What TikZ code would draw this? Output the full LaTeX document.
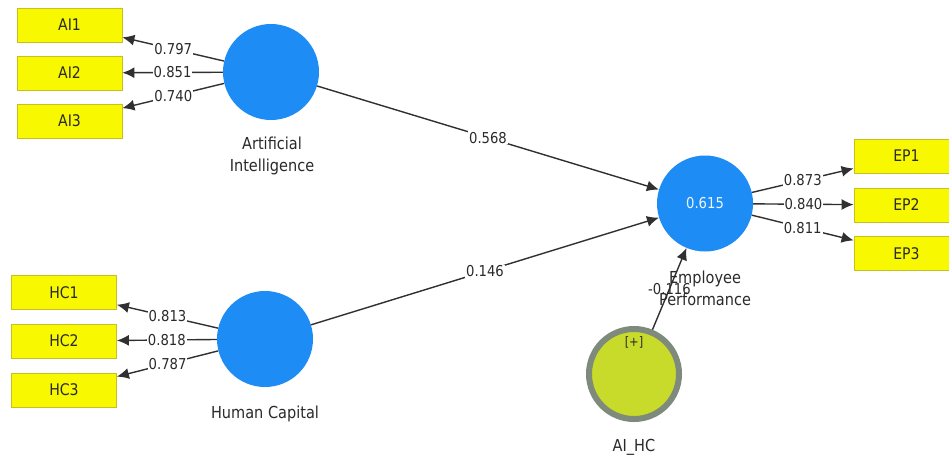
\documentclass[tikz,border=0pt]{standalone}
\usepackage{fontspec}
\setmainfont{DejaVu Sans}[FakeStretch=0.88]
\usetikzlibrary{arrows.meta}

\definecolor{lvblue}{HTML}{1E8CF5}
\definecolor{indyellow}{HTML}{F8F800}
\definecolor{indedge}{HTML}{C8C020}
\definecolor{modfill}{HTML}{C9DB2A}
\definecolor{modring}{HTML}{7E8A7C}
\definecolor{txt}{HTML}{2A2A2A}
\definecolor{linkc}{HTML}{303030}

\tikzset{
  indicator/.style={draw=indedge, line width=0.8pt, fill=indyellow,
    minimum width=105pt, minimum height=34pt, inner sep=0pt,
    font=\fontsize{16}{18}\selectfont, text=txt},
  latent/.style={circle, fill=lvblue, minimum size=96pt, inner sep=0pt,
    font=\fontsize{15}{17}\selectfont, text=white!92!lvblue},
  moderator/.style={circle, fill=modfill, draw=modring, line width=6pt,
    minimum size=90pt, inner sep=0pt},
  caption/.style={align=center, font=\fontsize{16.5}{21.5}\selectfont, text=txt},
  link/.style={draw=linkc, line width=1.4pt,
    -{Latex[length=12pt,width=11pt]}},
  coef/.style={fill=white, inner sep=1pt, text=txt,
    font=\fontsize{15}{17}\selectfont},
}

\begin{document}
\begin{tikzpicture}[x=1pt, y=-1pt]
\useasboundingbox[fill=white] (0,0) rectangle (949,464);

% indicator blocks
\node[indicator] (ai1) at (69.5,25)  {AI1};
\node[indicator] (ai2) at (69.5,73)  {AI2};
\node[indicator] (ai3) at (69.5,121) {AI3};
\node[indicator] (hc1) at (64,292.5) {HC1};
\node[indicator] (hc2) at (64,341)   {HC2};
\node[indicator] (hc3) at (64,390)   {HC3};
\node[indicator] (ep1) at (906.5,156)   {EP1};
\node[indicator] (ep2) at (906.5,205)   {EP2};
\node[indicator] (ep3) at (906.5,253.5) {EP3};

% latent variables
\node[latent] (ai) at (271,72) {};
\node[latent] (hc) at (265,339) {};
\node[latent] (ep) at (705,203.5) {0.615};
\node[moderator] (aihc) at (634,374) {};
\node[text=txt, font=\fontsize{13}{15}\selectfont] (plus) at (634,342) {[+]};

% outer loadings
\draw[link] (ai) -- node[coef]{0.797} (ai1);
\draw[link] (ai) -- node[coef]{0.851} (ai2);
\draw[link] (ai) -- node[coef]{0.740} (ai3);
\draw[link] (hc) -- node[coef]{0.813} (hc1);
\draw[link] (hc) -- node[coef]{0.818} (hc2);
\draw[link] (hc) -- node[coef]{0.787} (hc3);
\draw[link] (ep) -- node[coef]{0.873} (ep1);
\draw[link] (ep) -- node[coef]{0.840} (ep2);
\draw[link] (ep) -- node[coef]{0.811} (ep3);

% path coefficients
\draw[link] (ai) -- node[coef]{0.568} (ep);
\draw[link] (hc) -- node[coef]{0.146} (ep);
\draw[link] (aihc) -- node[coef, fill=none]{-0.116} (ep);

% construct names
\node[caption] (ainame) at (272,156) {Artificial\\Intelligence};
\node[caption] (hcname) at (265,414) {Human Capital};
\node[caption] (epname) at (705,288.5) {Employee\\Performance};
\node[caption] (aihcname) at (634,447) {AI\_HC};
\end{tikzpicture}
\end{document}
